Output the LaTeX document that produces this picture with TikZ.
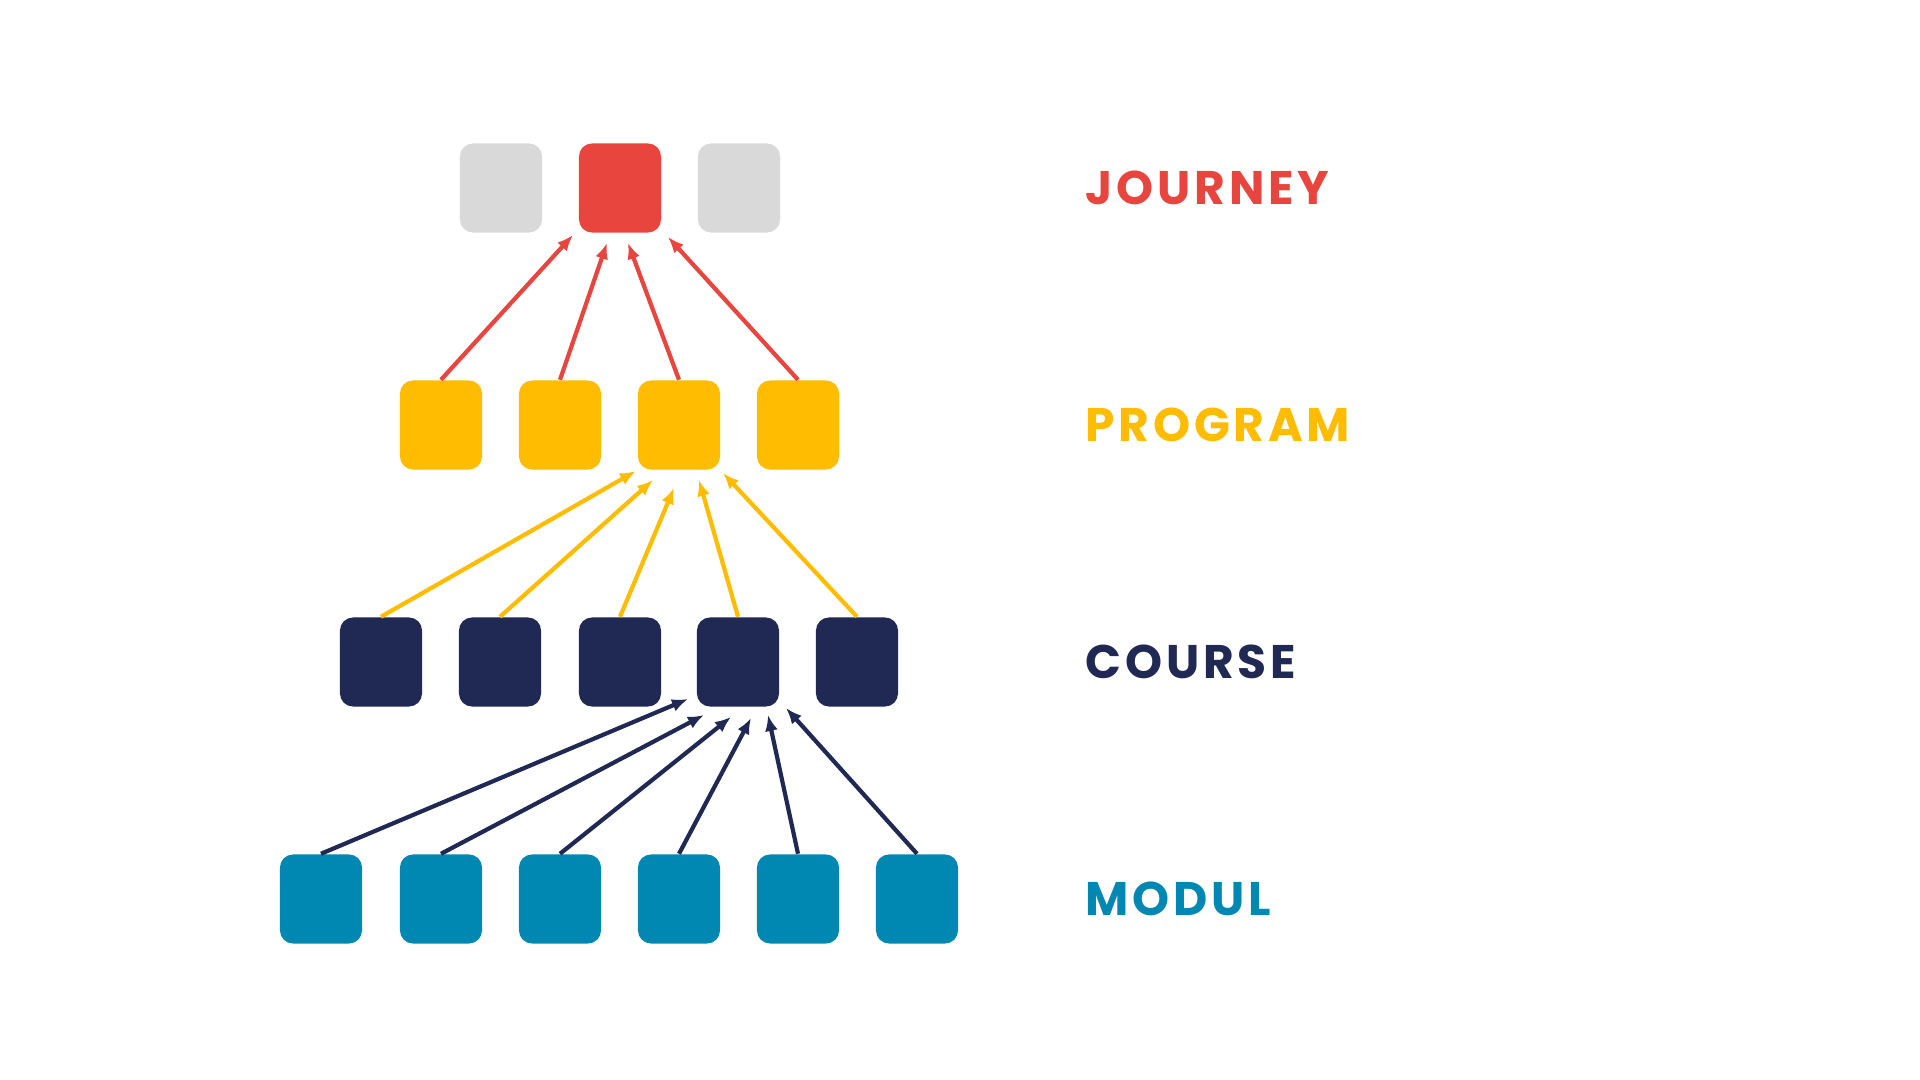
\documentclass[tikz,border=0pt]{standalone}
\usepackage{fontspec}
\setmainfont{Poppins}[LetterSpace=8]
\usetikzlibrary{arrows.meta}
\definecolor{jred}{HTML}{E8453F}
\definecolor{lgray}{HTML}{D9D9D9}
\definecolor{pyel}{HTML}{FFBC00}
\definecolor{cnavy}{HTML}{1F2953}
\definecolor{mteal}{HTML}{0088B2}
\tikzset{
  box/.style={rounded corners=0.13cm, minimum width=0.82cm, minimum height=0.89cm, inner sep=0pt},
  lvl/.style={anchor=base west, inner sep=0pt, font=\bfseries\fontsize{13.4pt}{16pt}\selectfont},
  up/.style={line width=0.042cm, -{Latex[length=0.16cm,width=0.13cm]}},
}
\begin{document}
\begin{tikzpicture}[x=0.01cm, y=-0.01cm]
    \useasboundingbox[fill=white] (0,0) rectangle (1920,1080);
    \node[box, fill=lgray] (j1) at (501, 188) {};
    \node[box, fill=jred] (j2) at (620, 188) {};
    \node[box, fill=lgray] (j3) at (739, 188) {};
    \node[box, fill=pyel] (p1) at (441, 425) {};
    \node[box, fill=pyel] (p2) at (560, 425) {};
    \node[box, fill=pyel] (p3) at (679, 425) {};
    \node[box, fill=pyel] (p4) at (798, 425) {};
    \node[box, fill=cnavy] (c1) at (381, 662) {};
    \node[box, fill=cnavy] (c2) at (500, 662) {};
    \node[box, fill=cnavy] (c3) at (620, 662) {};
    \node[box, fill=cnavy] (c4) at (738, 662) {};
    \node[box, fill=cnavy] (c5) at (857, 662) {};
    \node[box, fill=mteal] (m1) at (321, 899) {};
    \node[box, fill=mteal] (m2) at (441, 899) {};
    \node[box, fill=mteal] (m3) at (560, 899) {};
    \node[box, fill=mteal] (m4) at (679, 899) {};
    \node[box, fill=mteal] (m5) at (798, 899) {};
    \node[box, fill=mteal] (m6) at (917, 899) {};
    \node[lvl, text=jred] (tj) at (1085, 205) {JOURNEY};
    \node[lvl, text=pyel] (tp) at (1085, 442) {PROGRAM};
    \node[lvl, text=cnavy] (tc) at (1085, 679) {COURSE};
    \node[lvl, text=mteal] (tm) at (1085, 916) {MODUL};
    % arrow tips
    \coordinate (ja) at (573, 235);
    \coordinate (jb) at (607, 243);
    \coordinate (jc) at (628, 243);
    \coordinate (jd) at (668, 237);
    \coordinate (pa) at (636, 471);
    \coordinate (pb) at (653, 480);
    \coordinate (pc) at (674, 488);
    \coordinate (pd) at (699, 480);
    \coordinate (pe) at (723, 473);
    \coordinate (ca) at (688, 699);
    \coordinate (cb) at (704, 715);
    \coordinate (cc) at (731, 717);
    \coordinate (cd) at (751, 718);
    \coordinate (ce) at (768, 715);
    \coordinate (cf) at (786, 708);
    \draw [up, jred] (p1.north) to (ja);
    \draw [up, jred] (p2.north) to (jb);
    \draw [up, jred] (p3.north) to (jc);
    \draw [up, jred] (p4.north) to (jd);
    \draw [up, pyel] (c1.north) to (pa);
    \draw [up, pyel] (c2.north) to (pb);
    \draw [up, pyel] (c3.north) to (pc);
    \draw [up, pyel] (c4.north) to (pd);
    \draw [up, pyel] (c5.north) to (pe);
    \draw [up, cnavy] (m1.north) to (ca);
    \draw [up, cnavy] (m2.north) to (cb);
    \draw [up, cnavy] (m3.north) to (cc);
    \draw [up, cnavy] (m4.north) to (cd);
    \draw [up, cnavy] (m5.north) to (ce);
    \draw [up, cnavy] (m6.north) to (cf);
  \end{tikzpicture}
\end{document}
